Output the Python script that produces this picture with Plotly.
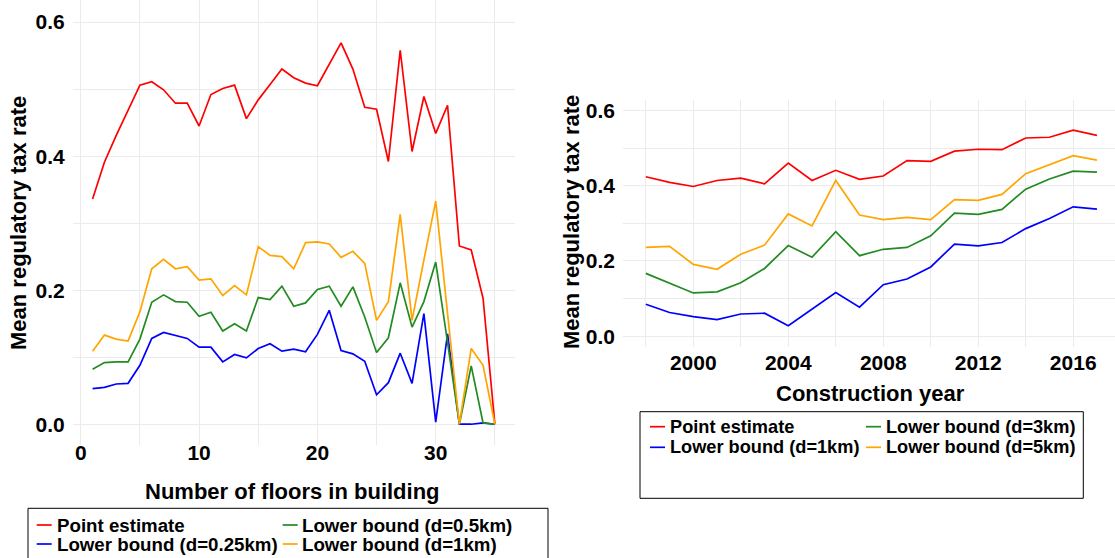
import plotly.graph_objects as go

# ---------------- data: left panel (floors) ----------------
floors = list(range(1, 36))
point_floors = [0.336, 0.391, 0.431, 0.469, 0.506, 0.511, 0.499, 0.479, 0.479, 0.445,
                0.492, 0.501, 0.506, 0.456, 0.484, 0.507, 0.530, 0.517, 0.509, 0.505,
                0.537, 0.569, 0.530, 0.473, 0.470, 0.392, 0.558, 0.407, 0.489, 0.434,
                0.476, 0.266, 0.260, 0.188, 0.000]
lb_025km = [0.053, 0.055, 0.060, 0.061, 0.088, 0.128, 0.137, 0.132, 0.128, 0.115,
            0.115, 0.093, 0.104, 0.099, 0.113, 0.120, 0.109, 0.112, 0.108, 0.134,
            0.170, 0.110, 0.105, 0.094, 0.044, 0.062, 0.106, 0.061, 0.165, 0.003,
            0.135, 0.000, 0.000, 0.002, 0.000]
lb_05km = [0.082, 0.092, 0.093, 0.093, 0.127, 0.182, 0.193, 0.183, 0.182, 0.161,
           0.167, 0.139, 0.150, 0.139, 0.189, 0.186, 0.206, 0.176, 0.181, 0.201,
           0.206, 0.176, 0.205, 0.160, 0.107, 0.129, 0.211, 0.145, 0.183, 0.242,
           0.122, 0.000, 0.087, 0.002, 0.000]
lb_1km_floors = [0.109, 0.133, 0.127, 0.124, 0.168, 0.232, 0.246, 0.232, 0.235, 0.215,
                 0.217, 0.192, 0.207, 0.193, 0.265, 0.252, 0.250, 0.232, 0.271, 0.272,
                 0.269, 0.249, 0.258, 0.240, 0.155, 0.183, 0.313, 0.155, 0.245, 0.333,
                 0.165, 0.000, 0.113, 0.088, 0.000]

# ---------------- data: right panel (construction year) ----------------
years = list(range(1998, 2018))
point_years = [0.424, 0.409, 0.398, 0.414, 0.420, 0.405, 0.460, 0.414, 0.441, 0.417,
               0.426, 0.467, 0.465, 0.492, 0.497, 0.496, 0.527, 0.529, 0.548, 0.534]
lb_1km_years = [0.085, 0.063, 0.052, 0.044, 0.059, 0.061, 0.028, 0.073, 0.116, 0.077,
                0.137, 0.152, 0.184, 0.245, 0.240, 0.249, 0.286, 0.313, 0.344, 0.338]
lb_3km = [0.167, 0.141, 0.115, 0.118, 0.142, 0.180, 0.241, 0.210, 0.278, 0.214,
          0.231, 0.236, 0.267, 0.327, 0.324, 0.337, 0.391, 0.418, 0.439, 0.436]
lb_5km = [0.236, 0.239, 0.191, 0.178, 0.218, 0.242, 0.325, 0.293, 0.414, 0.322,
          0.310, 0.316, 0.310, 0.363, 0.361, 0.377, 0.432, 0.456, 0.480, 0.468]

RED, BLUE, GREEN, ORANGE = "#FF0000", "#0000FF", "#228B22", "#FFA500"

left_series = [("Point estimate", point_floors, RED),
               ("Lower bound (d=0.25km)", lb_025km, BLUE),
               ("Lower bound (d=0.5km)", lb_05km, GREEN),
               ("Lower bound (d=1km)", lb_1km_floors, ORANGE)]
right_series = [("Point estimate", point_years, RED),
                ("Lower bound (d=1km)", lb_1km_years, BLUE),
                ("Lower bound (d=3km)", lb_3km, GREEN),
                ("Lower bound (d=5km)", lb_5km, ORANGE)]

W, H = 1115, 558
FONT = "Liberation Sans"


def px(x):
    return x / W


def py(y):
    return 1 - y / H


fig = go.Figure()
for name, vals, col in left_series:
    fig.add_trace(go.Scatter(x=floors, y=vals, mode="lines", name=name,
                             line=dict(color=col, width=1.7), showlegend=False,
                             xaxis="x", yaxis="y"))
for name, vals, col in right_series:
    fig.add_trace(go.Scatter(x=years, y=vals, mode="lines", name=name,
                             line=dict(color=col, width=1.7), showlegend=False,
                             xaxis="x2", yaxis="y2"))

GRID = "#EBEBEB"
tickfont = dict(family=FONT, size=21, color="black", weight="bold")
common = dict(showline=False, zeroline=False, ticks="", gridcolor=GRID, gridwidth=1.2,
              tickfont=tickfont, automargin=False)

fig.update_layout(
    width=W, height=H,
    margin=dict(l=0, r=0, t=0, b=0, autoexpand=False),
    paper_bgcolor="white", plot_bgcolor="white",
    showlegend=False,
    xaxis=dict(domain=[px(72.7), px(515)], range=[-0.68, 36.7], tickmode="linear",
               tick0=0, dtick=10, ticklabelstandoff=-7,
               minor=dict(tick0=5, dtick=10, showgrid=True, gridcolor=GRID, gridwidth=1),
               anchor="y", **common),
    yaxis=dict(domain=[py(445), 1.0], range=[-0.031, 0.633], tickmode="linear",
               tick0=0, dtick=0.2, tickformat=".1f", ticklabelstandoff=7,
               minor=dict(tick0=0.1, dtick=0.2, showgrid=True, gridcolor=GRID, gridwidth=1),
               anchor="x", **common),
    xaxis2=dict(domain=[px(623), 1.0], range=[1997.04, 2017.76], tickmode="linear",
                tick0=2000, dtick=4, ticklabelstandoff=1,
                minor=dict(tick0=1998, dtick=4, showgrid=True, gridcolor=GRID, gridwidth=1),
                anchor="y2", **common),
    yaxis2=dict(domain=[py(346.7), py(100)], range=[-0.028, 0.628], tickmode="linear",
                tick0=0, dtick=0.2, tickformat=".1f", ticklabelstandoff=7,
                minor=dict(tick0=0.1, dtick=0.2, showgrid=True, gridcolor=GRID, gridwidth=1),
                anchor="x2", **common),
)

titlefont = dict(family=FONT, size=22, color="black", weight="bold")
ann = [
    dict(text="Number of floors in building", x=px(292), y=py(491)),
    dict(text="Mean regulatory tax rate", x=px(19), y=py(223), textangle=-90),
    dict(text="Construction year", x=px(870), y=py(393)),
    dict(text="Mean regulatory tax rate", x=px(571), y=py(222), textangle=-90),
]
for a in ann:
    fig.add_annotation(xref="paper", yref="paper", showarrow=False,
                       xanchor="center", yanchor="middle", font=titlefont, **a)

# ---------------- legends (drawn manually, ggplot style) ----------------
def draw_legend(box, rows, cols, entries, fsize):
    x0, x1, y0, y1 = box
    fig.add_shape(type="rect", xref="paper", yref="paper",
                  x0=px(x0), x1=px(x1), y0=py(y1), y1=py(y0),
                  line=dict(color="black", width=1), fillcolor="rgba(0,0,0,0)")
    for (name, col), (r, c) in zip(entries, [(0, 0), (0, 1), (1, 0), (1, 1)]):
        kx0, kx1, tx = cols[c]
        ry = rows[r]
        fig.add_shape(type="line", xref="paper", yref="paper",
                      x0=px(kx0), x1=px(kx1), y0=py(ry), y1=py(ry),
                      line=dict(color=col, width=1.7))
        fig.add_annotation(xref="paper", yref="paper", showarrow=False,
                           x=px(tx), y=py(ry), xanchor="left", yanchor="middle",
                           text=name, font=dict(family=FONT, size=fsize,
                                                color="black", weight="bold"))

draw_legend((28, 548, 508.3, 575), [525, 544],
            [(36.7, 51.7, 54.5), (282.7, 297.7, 300)],
            [("Point estimate", RED), ("Lower bound (d=0.5km)", GREEN),
             ("Lower bound (d=0.25km)", BLUE), ("Lower bound (d=1km)", ORANGE)], 18.7)
draw_legend((640, 1083.3, 411.7, 498.3), [426.7, 447.3],
            [(650, 665, 668), (866, 881, 884)],
            [("Point estimate", RED), ("Lower bound (d=3km)", GREEN),
             ("Lower bound (d=1km)", BLUE), ("Lower bound (d=5km)", ORANGE)], 18.2)

fig.write_html("out.html", config={"responsive": False, "displayModeBar": False},
               post_script="document.body.style.margin='0';document.body.style.overflow='hidden';")
